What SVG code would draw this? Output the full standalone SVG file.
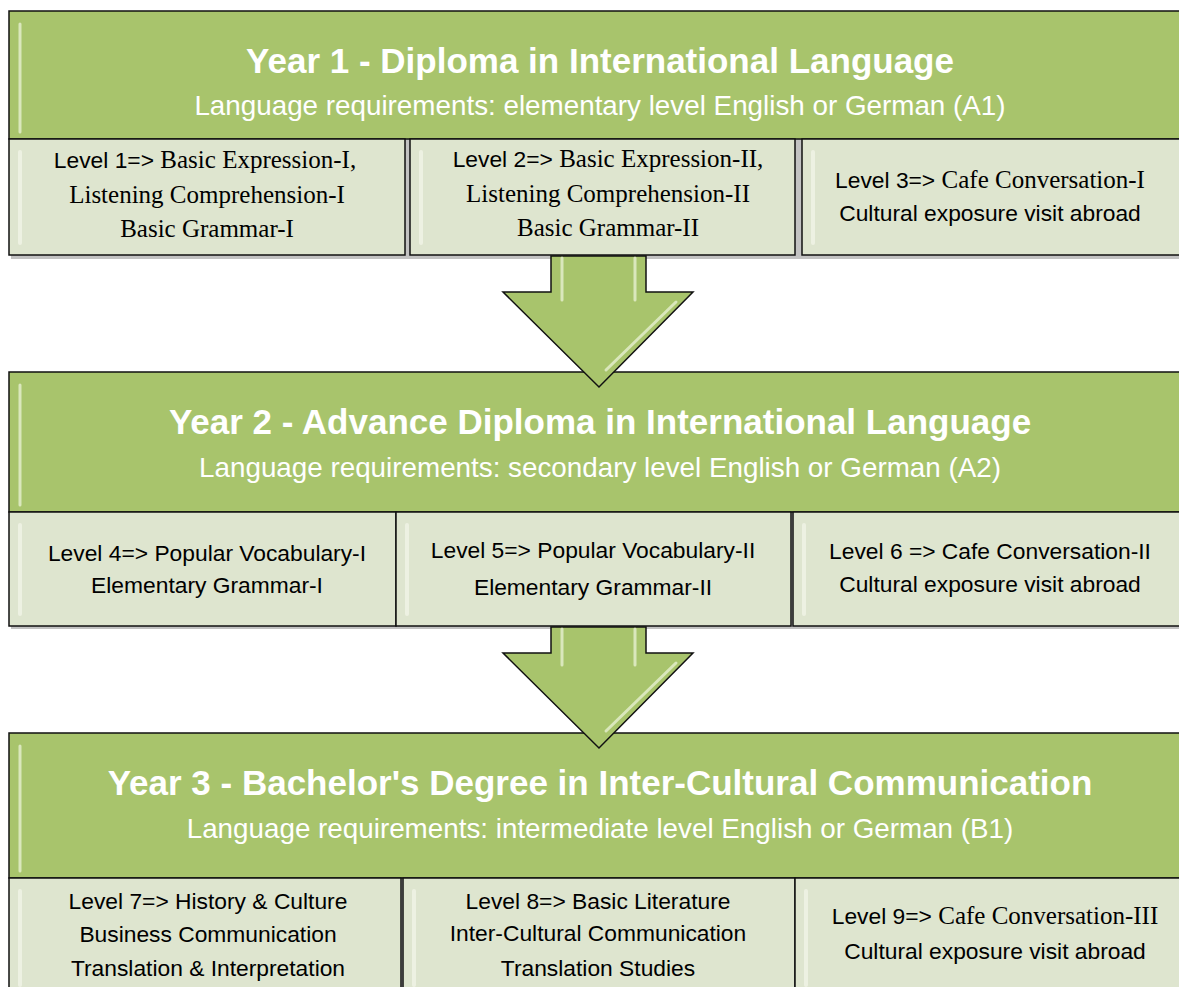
<svg xmlns="http://www.w3.org/2000/svg" width="1179" height="987" viewBox="0 0 1179 987">
<style>
.hdr{fill:#A8C46C;stroke:#111;stroke-width:1.5}
.box{fill:#DEE5CF;stroke:#111;stroke-width:1.5}
.title{font-family:"Liberation Sans",Arial,sans-serif;font-weight:bold;font-size:35px;fill:#fff;text-anchor:middle}
.sub{font-family:"Liberation Sans",Arial,sans-serif;font-size:27.8px;fill:#fff;text-anchor:middle}
.t{font-family:"Liberation Sans",Arial,sans-serif;font-size:22.8px;fill:#000;text-anchor:middle}
.s{font-family:"Liberation Serif","Times New Roman",serif;font-size:25px}
.arrow{fill:#A8C46C;stroke:#111;stroke-width:1.5}
.hl{fill:none;stroke:#F0F7DE;stroke-width:3;stroke-linecap:round;opacity:0.7}
.hlb{fill:none;stroke:#F6F9EF;stroke-width:4;stroke-linecap:round;opacity:0.6}
.shadow{fill:#777;opacity:0.45}
</style>

<g id="year1">
  <rect class="shadow" x="11" y="14" width="1180" height="245"/>
  <rect class="hdr" x="9" y="11" width="1180" height="128"/>
  <line class="hl" x1="20" y1="24" x2="20" y2="132"/>
  <text class="title" x="600" y="73">Year 1 - Diploma in International Language</text>
  <text class="sub" x="600" y="115">Language requirements: elementary level English or German (A1)</text>
</g>
<g id="level1">
  <rect class="box" x="9" y="139" width="396" height="116"/>
  <line class="hlb" x1="20" y1="152" x2="20" y2="243"/>
  <text class="t" x="205" y="168">Level 1=>  <tspan class="s">Basic Expression-I,</tspan></text>
  <text class="t s" x="207" y="203">Listening Comprehension-I</text>
  <text class="t s" x="207" y="237">Basic Grammar-I</text>
</g>
<g id="level2">
  <rect class="box" x="410" y="139" width="385" height="116"/>
  <line class="hlb" x1="421" y1="152" x2="421" y2="243"/>
  <text class="t" x="608" y="167">Level 2=> <tspan class="s">Basic Expression-II,</tspan></text>
  <text class="t s" x="608" y="202">Listening Comprehension-II</text>
  <text class="t s" x="608" y="236">Basic Grammar-II</text>
</g>
<g id="level3">
  <rect class="box" x="802" y="139" width="390" height="116"/>
  <line class="hlb" x1="813" y1="152" x2="813" y2="243"/>
  <text class="t" x="990" y="188">Level 3=> <tspan class="s">Cafe Conversation-I</tspan></text>
  <text class="t" x="990" y="221">Cultural exposure visit abroad</text>
</g>

<g id="year2">
  <rect class="shadow" x="11" y="375" width="1180" height="254"/>
  <rect class="hdr" x="9" y="372" width="1180" height="140"/>
  <line class="hl" x1="20" y1="385" x2="20" y2="505"/>
  <text class="title" x="600" y="434">Year 2 - Advance Diploma in International Language</text>
  <text class="sub" x="600" y="477">Language requirements: secondary level English or German (A2)</text>
</g>
<g id="level4">
  <rect class="box" x="9" y="512" width="387" height="114"/>
  <line class="hlb" x1="20" y1="525" x2="20" y2="614"/>
  <text class="t" x="207" y="561">Level 4=> Popular Vocabulary-I</text>
  <text class="t" x="207" y="593">Elementary Grammar-I</text>
</g>
<g id="level5">
  <rect class="box" x="396" y="512" width="395" height="114"/>
  <line class="hlb" x1="407" y1="525" x2="407" y2="614"/>
  <text class="t" x="593" y="558">Level 5=> Popular Vocabulary-II</text>
  <text class="t" x="593" y="595">Elementary Grammar-II</text>
</g>
<g id="level6">
  <rect class="box" x="793" y="512" width="400" height="114"/>
  <line class="hlb" x1="804" y1="525" x2="804" y2="614"/>
  <text class="t" x="990" y="559">Level 6 => Cafe Conversation-II</text>
  <text class="t" x="990" y="592">Cultural exposure visit abroad</text>
</g>

<g id="year3">
  <rect class="shadow" x="11" y="736" width="1180" height="260"/>
  <rect class="hdr" x="9" y="733" width="1180" height="145"/>
  <line class="hl" x1="20" y1="746" x2="20" y2="871"/>
  <text class="title" x="600" y="795">Year 3 - Bachelor's Degree in Inter-Cultural Communication</text>
  <text class="sub" x="600" y="838">Language requirements: intermediate level English or German (B1)</text>
</g>
<g id="level7">
  <rect class="box" x="9" y="878" width="392" height="120"/>
  <line class="hlb" x1="20" y1="891" x2="20" y2="985"/>
  <text class="t" x="208" y="909">Level 7=> History &amp; Culture</text>
  <text class="t" x="208" y="942">Business Communication</text>
  <text class="t" x="208" y="976">Translation &amp; Interpretation</text>
</g>
<g id="level8">
  <rect class="box" x="403" y="878" width="392" height="120"/>
  <line class="hlb" x1="414" y1="891" x2="414" y2="985"/>
  <text class="t" x="598" y="909">Level 8=> Basic Literature</text>
  <text class="t" x="598" y="941">Inter-Cultural Communication</text>
  <text class="t" x="598" y="976">Translation Studies</text>
</g>
<g id="level9">
  <rect class="box" x="795" y="878" width="400" height="120"/>
  <line class="hlb" x1="806" y1="891" x2="806" y2="985"/>
  <text class="t" x="995" y="924">Level 9=> <tspan class="s">Cafe Conversation-III</tspan></text>
  <text class="t" x="995" y="959">Cultural exposure visit abroad</text>
</g>

<g id="connectors">
  <g id="arrow1">
    <path class="arrow" d="M551,256 L646,256 L646,292 L693,292 L599,387 L503,292 L551,292 Z"/>
    <line class="hl" x1="562" y1="258" x2="562" y2="300"/>
    <line class="hl" x1="635" y1="258" x2="635" y2="300"/>
    <line class="hl" x1="676" y1="302" x2="606" y2="370"/>
  </g>
  <g id="arrow2">
    <path class="arrow" d="M551,627 L646,627 L646,653 L693,653 L599,748 L503,653 L551,653 Z"/>
    <line class="hl" x1="562" y1="629" x2="562" y2="665"/>
    <line class="hl" x1="635" y1="629" x2="635" y2="665"/>
    <line class="hl" x1="676" y1="663" x2="606" y2="731"/>
  </g>
</g>
</svg>
